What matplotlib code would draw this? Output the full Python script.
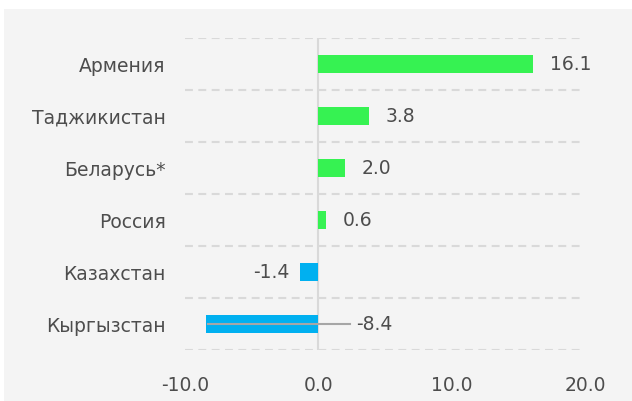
import matplotlib.pyplot as plt
from matplotlib.patches import Rectangle

countries = ['Армения', 'Таджикистан', 'Беларусь*', 'Россия', 'Казахстан', 'Кыргызстан']
values = [16.1, 3.8, 2.0, 0.6, -1.4, -8.4]
xticks = [-10.0, 0.0, 10.0, 20.0]

GREEN = '#36f252'
BLUE = '#00b0f0'
TXT = '#4d4d4d'
GRID = '#d9d9d9'
FS = 13.5

fig = plt.figure(figsize=(6.32, 4.01), dpi=100)
fig.patch.set_facecolor('white')
fig.patches.append(Rectangle((4 / 632, 0), 1, 1 - 9 / 401, transform=fig.transFigure,
                             facecolor='#f4f4f4', edgecolor='none', zorder=-10))

ax = fig.add_axes([185 / 632, 1 - 350 / 401, 400 / 632, 312 / 401])
ax.set_facecolor('none')

ypos = list(range(len(countries)))[::-1]
colors = [GREEN if v >= 0 else BLUE for v in values]
ax.barh(ypos, values, height=0.36, color=colors, zorder=3)

# category separators
for b in range(len(countries) + 1):
    ax.axhline(b - 0.5, color=GRID, lw=1.5, ls=(0, (3.8, 2.6)), zorder=1)
ax.axvline(0, color=GRID, lw=1.5, zorder=2)

# value labels
for y, v in zip(ypos, values):
    if v >= 0:
        ax.annotate(f'{v:.1f}', (v, y), xytext=(12, 0), textcoords='offset points',
                    ha='left', va='center', fontsize=FS, color=TXT)
    elif v > -5:
        ax.annotate(f'{v:.1f}', (v, y), xytext=(-7, 0), textcoords='offset points',
                    ha='right', va='center', fontsize=FS, color=TXT)
    else:
        # leader line to label on the right of zero
        ax.plot([v + 0.1, 2.4], [y, y], color='#a6a6a6', lw=1.5, zorder=4)
        ax.annotate(f'{v:.1f}', (2.4, y), xytext=(4, 0), textcoords='offset points',
                    ha='left', va='center', fontsize=FS, color=TXT)

ax.set_xlim(-10, 20)
ax.set_ylim(-0.5, len(countries) - 0.5)
ax.set_xticks(xticks)
ax.set_xticklabels([f'{t:.1f}' for t in xticks])
ax.set_yticks(ypos)
ax.set_yticklabels(countries)
ax.tick_params(length=0, labelsize=FS, labelcolor=TXT)
ax.tick_params(axis='x', pad=19)
ax.tick_params(axis='y', pad=14)
for s in ax.spines.values():
    s.set_visible(False)

fig.savefig('out.png', dpi=100)
